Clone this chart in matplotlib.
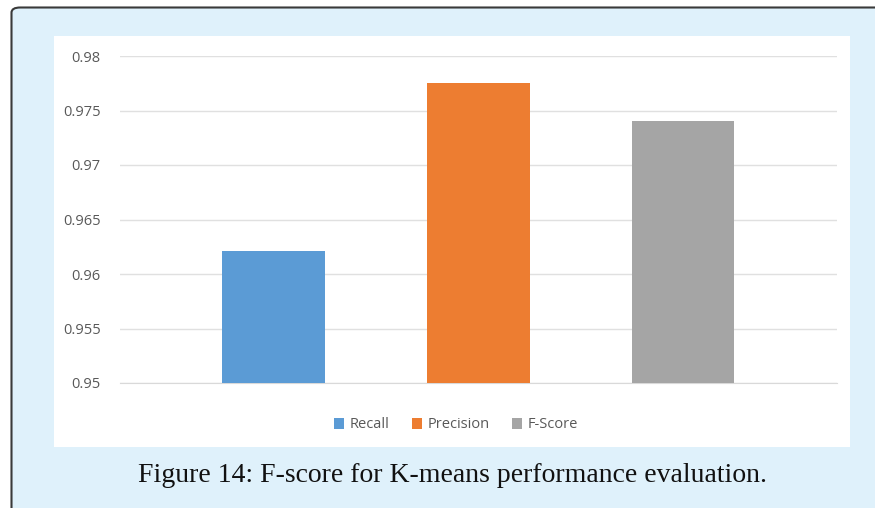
import matplotlib.pyplot as plt
from matplotlib.patches import FancyBboxPatch, Rectangle

categories = ["Recall", "Precision", "F-Score"]
values = [0.9621, 0.9775, 0.974]
colors = ["#5B9BD5", "#ED7D31", "#A5A5A5"]
yticks = [0.95, 0.955, 0.96, 0.965, 0.97, 0.975, 0.98]
caption = "Figure 14: F-score for K-means performance evaluation."

W, H = 875, 508
fig = plt.figure(figsize=(W / 100, H / 100), dpi=100)
fig.patch.set_facecolor("white")

# light blue panel with dark border on left/top
frame = FancyBboxPatch((11.5 / W, -0.1), 1.2, (H - 7.5) / H + 0.1,
                       boxstyle="round,pad=0,rounding_size=0.01",
                       transform=fig.transFigure, facecolor="#DFF1FB",
                       edgecolor="#3A3A3A", linewidth=1.5, zorder=-2)
fig.patches.append(frame)

# white chart box
fig.patches.append(Rectangle((54 / W, 1 - 447 / H), (850 - 54) / W, (447 - 36) / H,
                             transform=fig.transFigure, facecolor="white",
                             edgecolor="none", zorder=-1))

ax = fig.add_axes([120 / W, 1 - 383 / H, (837 - 120) / W, (383 - 56) / H])
ax.set_zorder(1)
ax.set_facecolor("none")
x = range(len(categories))
bars = ax.bar(x, values, width=0.5, color=colors, zorder=3)
ax.set_ylim(0.95, 0.98)
ax.set_xlim(-0.749, 2.751)
ax.set_yticks(yticks)
ax.set_yticklabels([f"{v:g}" for v in yticks])
ax.set_xticks([])
ax.grid(axis="y", color="#E0E0E0", linewidth=1, zorder=0)
for s in ax.spines.values():
    s.set_visible(False)
ax.spines["bottom"].set_visible(True)
ax.spines["bottom"].set_color("#D9D9D9")
ax.tick_params(axis="y", length=0, pad=14, labelsize=10.5, labelcolor="#595959")
for lab in ax.get_yticklabels():
    lab.set_family(["Open Sans", "DejaVu Sans"])

leg = fig.legend(bars, categories, loc="center", bbox_to_anchor=(456 / W, 1 - 425 / H),
                 ncol=3, frameon=False, handlelength=0.7, handleheight=0.7,
                 handletextpad=0.4, columnspacing=1.5,
                 prop={"family": "Open Sans", "size": 10.5})
for t in leg.get_texts():
    t.set_color("#595959")

fig.text(452 / W, 1 - 476 / H, caption, ha="center", va="center",
         fontsize=20, family="Liberation Serif", color="#111111")

fig.savefig("out.png", dpi=100)
